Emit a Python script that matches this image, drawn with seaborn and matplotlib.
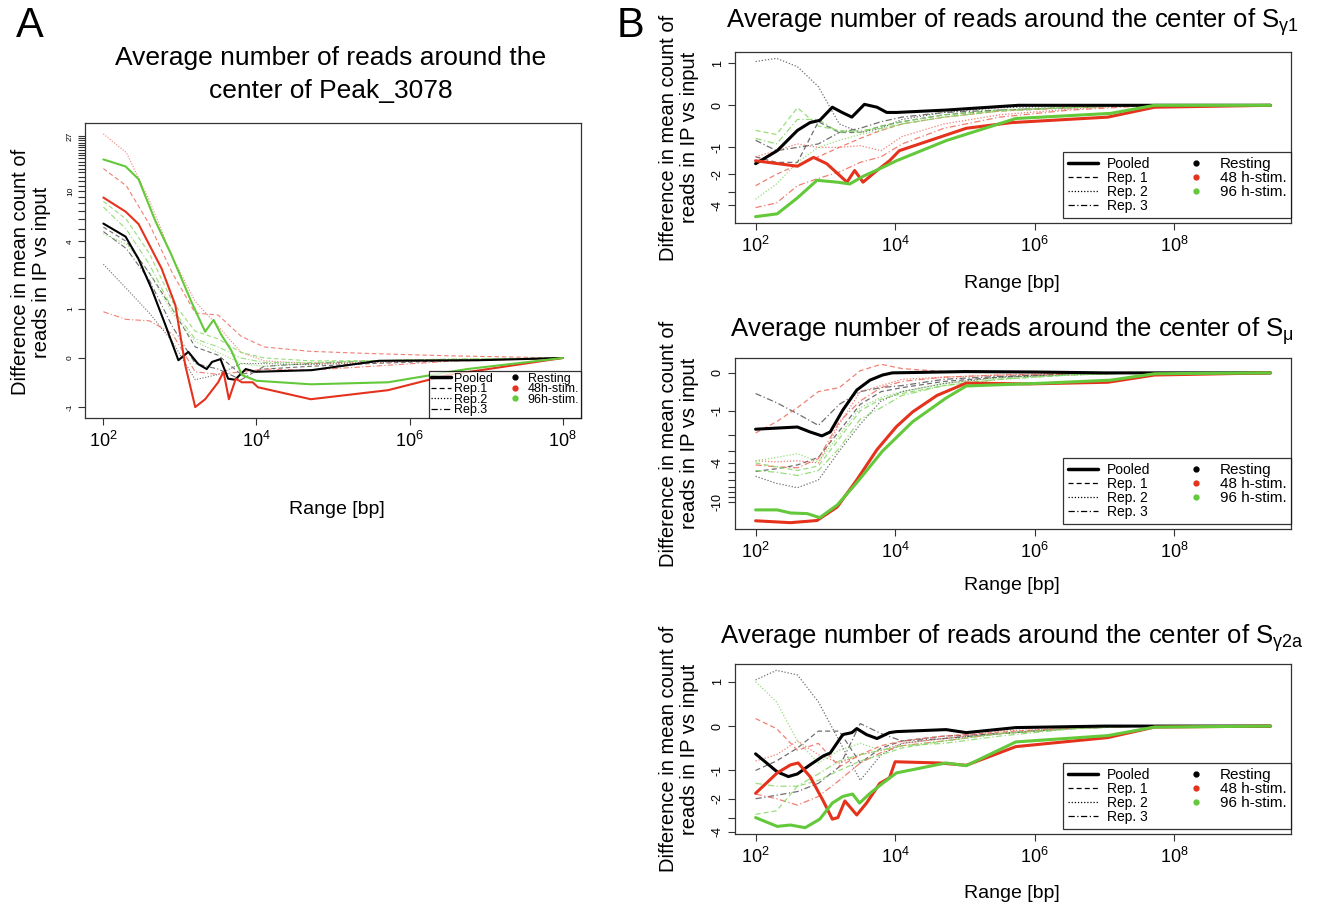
import numpy as np
import pandas as pd
import matplotlib
matplotlib.use('Agg')
import matplotlib.pyplot as plt
import seaborn as sns
from matplotlib.lines import Line2D
from matplotlib.ticker import FixedLocator, NullLocator, FuncFormatter, LogFormatterSciNotation

# x values are log10(range in bp), y values are the differences (plotted on an asinh axis)

# ---- Panel A: Peak_3078 ----
A_rest_x = [2.0, 2.29, 2.46, 2.63, 2.81, 2.98, 3.11, 3.24, 3.35, 3.42, 3.53, 3.63, 3.72, 3.86, 3.99, 4.72, 5.6, 6.9, 8.0]
A_rest_y = [5.55, 4.37, 2.87, 1.59, 0.63, -0.04, 0.11, -0.11, -0.2, -0.07, -0.02, -0.38, -0.40, -0.2, -0.25, -0.22, -0.05, -0.04, 0.0]
A_48_x = [2.0, 2.29, 2.46, 2.76, 2.94, 3.07, 3.20, 3.33, 3.50, 3.57, 3.64, 3.73, 3.81, 3.95, 4.02, 4.71, 5.72, 6.5, 8.0]
A_48_y = [8.9, 6.9, 5.5, 2.4, 1.1, -0.13, -1.0, -0.81, -0.45, -0.25, -0.81, -0.38, -0.45, -0.45, -0.55, -0.81, -0.61, -0.31, 0.0]
A_96_x = [2.0, 2.29, 2.46, 2.68, 2.89, 3.15, 3.33, 3.44, 3.54, 3.67, 3.81, 4.0, 4.71, 5.72, 6.75, 8.0]
A_96_y = [17.7, 15.6, 12.4, 5.8, 3.1, 1.19, 0.49, 0.74, 0.43, 0.14, -0.31, -0.42, -0.49, -0.45, -0.2, 0.0]

A_rep_x = [2.0, 2.3, 2.6, 2.9, 3.2, 3.5, 3.8, 4.1, 4.7, 5.5, 6.5, 8.0]
A_rest_rep1 = [5.2, 4.0, 2.2, 1.0, 0.2, 0.05, -0.3, -0.2, -0.15, -0.1, -0.05, 0.0]
A_rest_rep2 = [2.6, 1.6, 0.9, 0.3, -0.4, -0.3, -0.1, -0.1, -0.12, -0.08, -0.04, 0.0]
A_rest_rep3 = [4.8, 3.5, 1.9, 0.6, -0.1, -0.2, -0.4, -0.15, -0.1, -0.05, -0.03, 0.0]
A_48_rep1 = [15.0, 11.0, 5.5, 2.2, 0.9, 0.85, 0.4, 0.2, 0.12, 0.08, 0.04, 0.0]
A_48_rep2 = [28.0, 20.0, 8.5, 3.0, 1.2, 0.6, 0.1, -0.05, -0.1, -0.08, -0.04, 0.0]
A_48_rep3 = [0.93, 0.75, 0.72, 0.45, -0.25, -0.3, -0.25, -0.2, -0.22, -0.15, -0.06, 0.0]
A_96_rep1 = [8.3, 6.0, 3.2, 1.2, 0.5, 0.35, 0.1, 0.0, -0.05, -0.05, -0.03, 0.0]
A_96_rep2 = [4.6, 3.8, 2.2, 0.9, 0.3, 0.1, -0.1, -0.15, -0.1, -0.05, -0.02, 0.0]
A_96_rep3 = [7.5, 5.0, 2.6, 1.0, 0.35, 0.2, 0.0, -0.08, -0.08, -0.05, -0.02, 0.0]

# ---- Panel B: shared replicate grid ----
B_rep_x = [2.0, 2.3, 2.6, 2.9, 3.2, 3.5, 3.8, 4.1, 4.7, 5.5, 6.5, 7.5, 9.38]

# S gamma1
B1_rest_x = [2.0, 2.31, 2.60, 2.78, 2.92, 3.10, 3.24, 3.38, 3.56, 3.74, 3.88, 4.02, 4.73, 5.77, 7.0, 9.38]
B1_rest_y = [-1.55, -1.1, -0.55, -0.37, -0.32, -0.04, -0.15, -0.25, 0.02, -0.04, -0.15, -0.15, -0.1, 0.0, 0.0, 0.0]
B1_48_x = [2.0, 2.60, 2.83, 3.02, 3.31, 3.42, 3.54, 3.74, 3.92, 4.06, 5.02, 5.67, 7.05, 7.72, 9.38]
B1_48_y = [-1.44, -1.65, -1.32, -1.55, -2.4, -1.83, -2.4, -1.83, -1.44, -1.1, -0.5, -0.37, -0.25, -0.04, 0.0]
B1_96_x = [2.0, 2.31, 2.60, 2.88, 3.17, 3.35, 3.54, 3.82, 4.02, 4.73, 5.73, 7.09, 7.72, 9.38]
B1_96_y = [-5.1, -4.8, -3.4, -2.3, -2.4, -2.5, -2.1, -1.7, -1.44, -0.81, -0.28, -0.17, 0.0, 0.0]
B1_rest_rep1 = [-1.3, -1.5, -1.5, -0.35, -0.6, -0.6, -0.45, -0.35, -0.2, -0.1, -0.05, 0.0, 0.0]
B1_rest_rep2 = [1.05, 1.15, 0.9, 0.4, -0.4, -0.6, -0.5, -0.3, -0.15, -0.05, -0.02, 0.0, 0.0]
B1_rest_rep3 = [-0.8, -1.1, -1.0, -0.9, -0.6, -0.5, -0.35, -0.25, -0.15, -0.1, -0.05, 0.0, 0.0]
B1_48_rep1 = [-2.6, -2.0, -1.6, -1.3, -1.0, -0.75, -0.55, -0.4, -0.25, -0.12, -0.05, 0.0, 0.0]
B1_48_rep2 = [-1.3, -1.1, -0.9, -1.0, -1.0, -0.95, -1.1, -0.7, -0.4, -0.2, -0.08, 0.0, 0.0]
B1_48_rep3 = [-4.2, -3.8, -2.6, -2.2, -1.9, -1.5, -1.3, -0.9, -0.5, -0.25, -0.1, -0.02, 0.0]
B1_96_rep1 = [-0.55, -0.65, -0.05, -0.45, -0.55, -0.6, -0.45, -0.35, -0.2, -0.1, -0.04, 0.0, 0.0]
B1_96_rep2 = [-3.5, -2.5, -1.5, -1.0, -0.8, -0.65, -0.55, -0.4, -0.25, -0.12, -0.05, 0.0, 0.0]
B1_96_rep3 = [-0.75, -0.9, -0.3, -0.3, -0.6, -0.55, -0.5, -0.4, -0.25, -0.12, -0.05, 0.0, 0.0]

# S mu
B2_rest_x = [2.0, 2.60, 2.78, 2.95, 3.07, 3.25, 3.45, 3.64, 3.82, 3.96, 5.0, 6.0, 7.0, 9.38]
B2_rest_y = [-1.72, -1.62, -1.85, -2.05, -1.85, -0.98, -0.41, -0.17, -0.05, 0.0, 0.03, 0.02, 0.0, 0.0]
B2_48_x = [2.0, 2.50, 2.88, 3.17, 3.45, 3.74, 4.02, 4.25, 4.6, 5.02, 5.91, 7.05, 7.72, 9.38]
B2_48_y = [-15.6, -16.3, -15.5, -11.3, -6.0, -2.9, -1.6, -1.04, -0.55, -0.24, -0.26, -0.22, -0.05, 0.0]
B2_96_x = [2.0, 2.31, 2.50, 2.74, 2.92, 3.17, 3.45, 3.82, 4.25, 4.73, 5.02, 6.15, 7.09, 7.72, 9.38]
B2_96_y = [-12.1, -12.1, -13.0, -13.2, -14.5, -10.8, -6.4, -3.0, -1.4, -0.62, -0.31, -0.24, -0.17, -0.02, 0.0]
B2_rest_rep1 = [-4.9, -4.6, -4.2, -3.5, -1.8, -0.8, -0.45, -0.35, -0.2, -0.1, -0.03, 0.0, 0.0]
B2_rest_rep2 = [-5.5, -6.5, -7.2, -6.0, -3.0, -1.5, -0.7, -0.45, -0.25, -0.1, -0.05, 0.0, 0.0]
B2_rest_rep3 = [-0.5, -0.75, -1.1, -1.55, -0.8, -0.45, -0.35, -0.3, -0.15, -0.08, -0.03, 0.0, 0.0]
B2_48_rep1 = [-1.9, -1.4, -0.9, -0.45, -0.35, 0.05, 0.2, 0.1, 0.03, 0.02, 0.01, 0.0, 0.0]
B2_48_rep2 = [-3.8, -3.9, -3.8, -4.0, -1.5, -0.45, -0.3, -0.15, -0.1, -0.05, -0.02, 0.0, 0.0]
B2_48_rep3 = [-4.2, -4.4, -4.5, -3.6, -1.4, -0.7, -0.35, -0.2, -0.1, -0.05, -0.02, 0.0, 0.0]
B2_96_rep1 = [-4.0, -4.4, -4.8, -4.3, -2.2, -1.0, -0.65, -0.5, -0.3, -0.15, -0.05, 0.0, 0.0]
B2_96_rep2 = [-3.8, -3.5, -3.2, -3.9, -2.0, -0.9, -0.6, -0.45, -0.25, -0.12, -0.04, 0.0, 0.0]
B2_96_rep3 = [-4.8, -5.0, -5.4, -4.8, -2.8, -1.3, -0.9, -0.55, -0.3, -0.15, -0.05, 0.0, 0.0]

# S gamma2a
B3_rest_x = [2.0, 2.31, 2.47, 2.60, 2.78, 2.97, 3.07, 3.25, 3.38, 3.45, 3.59, 3.74, 3.92, 4.02, 4.73, 5.02, 5.73, 7.0, 9.38]
B3_rest_y = [-0.58, -1.04, -1.18, -1.1, -0.85, -0.63, -0.56, -0.17, -0.13, -0.05, -0.17, -0.25, -0.13, -0.11, -0.07, -0.13, -0.03, 0.0, 0.0]
B3_48_x = [2.0, 2.31, 2.50, 2.61, 2.78, 2.97, 3.10, 3.18, 3.28, 3.45, 3.59, 3.78, 3.92, 4.0, 4.63, 5.02, 5.73, 7.05, 7.72, 9.38]
B3_48_y = [-1.77, -1.07, -0.85, -0.8, -1.18, -2.1, -3.1, -3.0, -2.1, -2.84, -2.2, -1.4, -1.22, -0.77, -0.8, -0.86, -0.42, -0.23, -0.02, 0.0]
B3_96_x = [2.0, 2.31, 2.50, 2.71, 2.92, 3.10, 3.25, 3.39, 3.49, 3.64, 3.82, 4.02, 4.73, 5.02, 5.73, 7.05, 7.72, 9.38]
B3_96_y = [-3.0, -3.6, -3.5, -3.7, -3.1, -2.2, -1.9, -1.8, -2.2, -1.77, -1.4, -1.07, -0.8, -0.87, -0.32, -0.19, -0.02, 0.0]
B3_rest_rep1 = [-1.0, -0.75, -0.45, -0.1, -0.1, -0.8, -0.45, -0.3, -0.2, -0.15, -0.05, 0.0, 0.0]
B3_rest_rep2 = [1.05, 1.35, 1.2, 0.5, -0.3, -1.3, -0.6, -0.35, -0.25, -0.15, -0.05, 0.0, 0.0]
B3_rest_rep3 = [-2.0, -1.85, -1.7, -1.4, -0.9, 0.05, -0.15, -0.3, -0.25, -0.15, -0.05, 0.0, 0.0]
B3_48_rep1 = [0.15, -0.05, -0.5, -0.35, -0.9, -0.6, -0.4, -0.3, -0.2, -0.12, -0.04, 0.0, 0.0]
B3_48_rep2 = [-0.75, -0.6, -0.3, -0.6, -0.8, -0.6, -0.5, -0.35, -0.25, -0.1, -0.04, 0.0, 0.0]
B3_48_rep3 = [-1.8, -2.0, -2.3, -1.9, -1.3, -0.8, -0.55, -0.4, -0.3, -0.15, -0.05, 0.0, 0.0]
B3_96_rep1 = [-2.8, -2.6, -1.5, -1.3, -1.0, -0.75, -0.6, -0.45, -0.3, -0.15, -0.05, 0.0, 0.0]
B3_96_rep2 = [1.0, 0.5, -0.3, -0.8, -0.5, -0.35, -0.5, -0.4, -0.3, -0.15, -0.05, 0.0, 0.0]
B3_96_rep3 = [-1.4, -1.5, -1.5, -1.1, -0.75, -0.6, -0.5, -0.4, -0.35, -0.2, -0.06, 0.0, 0.0]

conditions = ['Resting', '48 h-stim.', '96 h-stim.']
cond_colors = ['black', '#e5321d', '#63c93a']
rep_colors = ['#555555', '#ee6a5c', '#86d866']
rep_styles = [(0, (4, 2.5)), (0, (1, 1.5)), (0, (5, 2, 1, 2))]

sns.set_theme(style='white')
plt.rcParams['font.family'] = ['Liberation Sans', 'DejaVu Sans']
plt.rcParams['mathtext.fontset'] = 'custom'
plt.rcParams['mathtext.rm'] = 'Liberation Sans'
plt.rcParams['mathtext.it'] = 'Liberation Sans:italic'
plt.rcParams['mathtext.bf'] = 'Liberation Sans:bold'
plt.rcParams['text.color'] = 'black'
plt.rcParams['axes.labelcolor'] = 'black'
plt.rcParams['xtick.color'] = 'black'
plt.rcParams['ytick.color'] = 'black'

fig = plt.figure(figsize=(13.36, 9.06), dpi=100)
W, H = 1336, 906


def px_axes(left, top, right, bottom):
    return fig.add_axes([left / W, 1 - bottom / H, (right - left) / W, (bottom - top) / H])


def draw_panel(ax, pooled, reps, rep_x, yticks, ylabels, pooled_lw, rep_lw, ytick_size, xtick_size):
    for i in range(3):
        for j in range(3):
            sns.lineplot(x=10 ** np.array(rep_x), y=reps[i][j], ax=ax, color=rep_colors[i],
                         linestyle=rep_styles[j], lw=rep_lw, alpha=0.85, sort=False)
    for i in range(3):
        px, py = pooled[i]
        sns.lineplot(x=10 ** np.array(px), y=py, ax=ax, color=cond_colors[i], lw=pooled_lw, sort=False)
    ax.set_xscale('log')
    ax.set_yscale('asinh', linear_width=1)
    ax.margins(x=0.04, y=0.04)
    ax.xaxis.set_major_locator(FixedLocator([1e2, 1e4, 1e6, 1e8]))
    ax.xaxis.set_major_formatter(LogFormatterSciNotation())
    ax.xaxis.set_minor_locator(NullLocator())
    ax.yaxis.set_major_locator(FixedLocator(yticks))
    ax.yaxis.set_minor_locator(NullLocator())
    ax.yaxis.set_major_formatter(FuncFormatter(lambda v, p: str(int(round(v))) if int(round(v)) in ylabels else ''))
    ax.set_xlabel('')
    ax.set_ylabel('')
    for s in ax.spines.values():
        s.set_color('#333333')
        s.set_linewidth(0.9)
    ax.tick_params(axis='both', direction='out', length=5, width=0.8, color='#333333', left=True, bottom=True)
    ax.tick_params(axis='x', labelsize=xtick_size, pad=4)
    ax.tick_params(axis='y', labelsize=ytick_size, pad=3, labelrotation=90)
    for lab in ax.get_yticklabels():
        lab.set_va('center')


def add_legend(ax, fontsize, right_size, anchor, spacing, handlelen, textpad, colsp, bpad, rep_prefix, stim_sep):
    handles = [Line2D([], [], color='black', lw=2.5),
               Line2D([], [], color='black', lw=0.9, linestyle=rep_styles[0]),
               Line2D([], [], color='black', lw=0.9, linestyle=rep_styles[1]),
               Line2D([], [], color='black', lw=0.9, linestyle=rep_styles[2])]
    labels = ['Pooled', rep_prefix + '1', rep_prefix + '2', rep_prefix + '3']
    for c, lab in zip(cond_colors, conditions):
        handles.append(Line2D([], [], color=c, marker='o', ls='', markersize=3.5))
        labels.append(lab.replace(' h-', stim_sep + 'h-'))
    handles.append(Line2D([], [], ls='', marker=''))
    labels.append('')
    leg = ax.legend(handles, labels, ncol=2, loc='lower right', bbox_to_anchor=anchor,
                    fontsize=fontsize, frameon=True, fancybox=False, edgecolor='black',
                    labelspacing=spacing, handlelength=handlelen, handletextpad=textpad,
                    columnspacing=colsp, borderpad=bpad, borderaxespad=0)
    leg.get_frame().set_linewidth(0.9)
    for t in leg.get_texts()[4:]:
        t.set_fontsize(right_size)
    return leg


# ---- Panel A ----
axA = px_axes(85, 123, 581, 418)
draw_panel(axA,
           [(A_rest_x, A_rest_y), (A_48_x, A_48_y), (A_96_x, A_96_y)],
           [[A_rest_rep1, A_rest_rep2, A_rest_rep3],
            [A_48_rep1, A_48_rep2, A_48_rep3],
            [A_96_rep1, A_96_rep2, A_96_rep3]],
           A_rep_x, list(range(-1, 28)), [-1, 0, 1, 4, 10, 27], 1.5, 0.8, 6, 13)
add_legend(axA, 9, 9, (1.0, 0.0), -0.12, 1.6, 0.25, 0.9, 0.15, 'Rep.', '')
fig.text(331 / W, 1 - 58 / H, 'Average number of reads around the', ha='center', va='center', fontsize=19)
fig.text(331 / W, 1 - 91 / H, 'center of Peak_3078', ha='center', va='center', fontsize=19)
fig.text(31 / W, 1 - 272 / H, 'Difference in mean count of\nreads in IP vs input', rotation=90,
         ha='center', va='center', multialignment='center', fontsize=14.5, linespacing=1.15)
fig.text(337 / W, 1 - 510 / H, 'Range [bp]', ha='center', va='center', fontsize=14)
fig.text(30 / W, 1 - 26 / H, 'A', ha='center', va='center', fontsize=30)

# ---- Panel B ----
B_specs = [
    (52, 223, [(B1_rest_x, B1_rest_y), (B1_48_x, B1_48_y), (B1_96_x, B1_96_y)],
     [[B1_rest_rep1, B1_rest_rep2, B1_rest_rep3], [B1_48_rep1, B1_48_rep2, B1_48_rep3], [B1_96_rep1, B1_96_rep2, B1_96_rep3]],
     list(range(-4, 2)), [1, 0, -1, -2, -4], 'Average number of reads around the center of S$_{\\mathregular{γ1}}$', 22, 284),
    (358, 529, [(B2_rest_x, B2_rest_y), (B2_48_x, B2_48_y), (B2_96_x, B2_96_y)],
     [[B2_rest_rep1, B2_rest_rep2, B2_rest_rep3], [B2_48_rep1, B2_48_rep2, B2_48_rep3], [B2_96_rep1, B2_96_rep2, B2_96_rep3]],
     list(range(-10, 1)), [0, -1, -4, -10], 'Average number of reads around the center of S$_{\\mathregular{μ}}$', 331, 586),
    (664, 834, [(B3_rest_x, B3_rest_y), (B3_48_x, B3_48_y), (B3_96_x, B3_96_y)],
     [[B3_rest_rep1, B3_rest_rep2, B3_rest_rep3], [B3_48_rep1, B3_48_rep2, B3_48_rep3], [B3_96_rep1, B3_96_rep2, B3_96_rep3]],
     list(range(-4, 2)), [1, 0, -1, -2, -4], 'Average number of reads around the center of S$_{\\mathregular{γ2a}}$', 638, 893),
]
for top, bottom, pooled, reps, yt, yl, title, title_y, xlab_y in B_specs:
    ax = px_axes(735, top, 1291, bottom)
    draw_panel(ax, pooled, reps, B_rep_x, yt, yl, 2.2, 0.9, 9, 13)
    add_legend(ax, 10, 11, (1.0, 0.03), 0.0, 2.2, 0.6, 2.2, 0.35, 'Rep. ', ' ')
    fig.text(1012 / W, 1 - title_y / H, title, ha='center', va='center', fontsize=18.5)
    fig.text(1012 / W, 1 - xlab_y / H, 'Range [bp]', ha='center', va='center', fontsize=14)
    fig.text(679 / W, 1 - (top + bottom) / 2 / H, 'Difference in mean count of\nreads in IP vs input',
             rotation=90, ha='center', va='center', multialignment='center', fontsize=14.5, linespacing=1.15)
fig.text(631 / W, 1 - 26 / H, 'B', ha='center', va='center', fontsize=30)

plt.savefig('out.png', dpi=100)
